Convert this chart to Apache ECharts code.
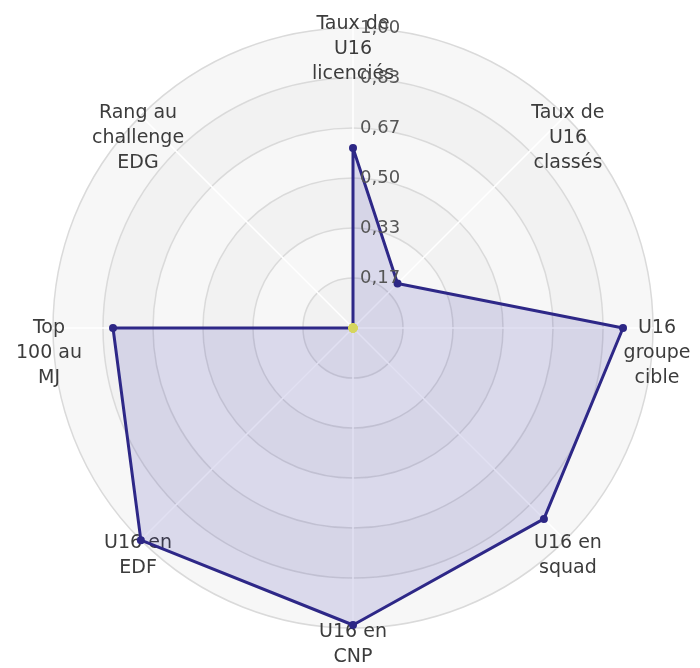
<!DOCTYPE html>
<html>
<head>
<meta charset="utf-8">
<script src="https://cdn.jsdelivr.net/npm/echarts@6/dist/echarts.min.js"></script>
<style>html,body{margin:0;padding:0;background:#fff}#c{width:700px;height:668px}</style>
</head>
<body>
<div id="c"></div>
<script>
// Indicators listed counter-clockwise from the top (ECharts radar order)
var indicatorNames = [
  "Taux de\nU16\nlicenciés",
  "Rang au\nchallenge\nEDG",
  "Top\n100 au\nMJ",
  "U16 en\nEDF",
  "U16 en\nCNP",
  "U16 en\nsquad",
  "U16\ngroupe\ncible",
  "Taux de\nU16\nclassés"
];
var seriesValues = [0.60, 0, 0.80, 1.00, 0.99, 0.90, 0.90, 0.21];
var centerValues = [0, 0, 0, 0, 0, 0, 0, 0];
var tickLabels = ["0,17", "0,33", "0,50", "0,67", "0,83", "1,00"];
var maxValue = 1;

var chart = echarts.init(document.getElementById('c'));
var font = '"DejaVu Sans", sans-serif';
chart.setOption({
  animation: false,
  radar: {
    center: [353, 328],
    radius: 300,
    shape: 'circle',
    splitNumber: 6,
    nameGap: 4,
    indicator: indicatorNames.map(function (n) {
      return { name: n, max: maxValue, min: 0 };
    }),
    axisName: {
      color: '#3c3c3c',
      fontFamily: font,
      fontSize: 19,
      lineHeight: 25,
      align: 'center',
      verticalAlign: 'top',
      padding: [-12, 0, 0, 0]
    },
    splitLine: { lineStyle: { color: '#dadada', width: 1.5 } },
    splitArea: { areaStyle: { color: ['#f2f2f2', '#f7f7f7'] } },
    axisLine: { lineStyle: { color: '#ffffff', width: 1.5 } },
    axisTick: { show: false },
    axisLabel: { show: false }
  },
  polar: { center: [353, 328], radius: 300 },
  angleAxis: { show: false, startAngle: 90, min: 0, max: 360 },
  radiusAxis: {
    min: 0,
    max: 1,
    interval: 1 / 6,
    z: 10,
    axisLine: { show: false },
    axisTick: { show: false },
    splitLine: { show: false },
    axisLabel: {
      showMinLabel: false,
      color: '#555',
      fontFamily: font,
      fontSize: 18,
      margin: -7,
      align: 'left',
      formatter: function (v) {
        var idx = Math.round(v * 6) - 1;
        return idx >= 0 ? tickLabels[idx] : '';
      }
    }
  },
  series: [
    {
      type: 'radar',
      z: 3,
      symbol: 'circle',
      symbolSize: 8,
      data: [{
        value: seriesValues,
        lineStyle: { color: '#2d2785', width: 3 },
        itemStyle: { color: '#2d2785' },
        areaStyle: { color: 'rgba(60,50,170,0.22)' }
      }]
    },
    {
      type: 'radar',
      z: 4,
      symbol: 'circle',
      symbolSize: 9,
      data: [{
        value: centerValues,
        lineStyle: { color: '#d8d86a', width: 1 },
        itemStyle: { color: '#d6d65e' }
      }]
    }
  ]
});
</script>
</body>
</html>
